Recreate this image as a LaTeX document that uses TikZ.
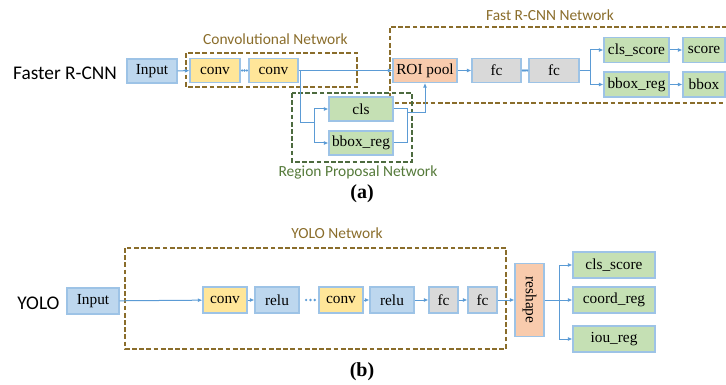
\documentclass[tikz,border=0pt]{standalone}
\usepackage{fontspec}
\setmainfont{Liberation Serif}
\newfontfamily\labfont{Carlito}
\usetikzlibrary{arrows.meta,calc}

\definecolor{bfill}{HTML}{BDD7EE}
\definecolor{yfill}{HTML}{FFE699}
\definecolor{gfill}{HTML}{C5E0B4}
\definecolor{grfill}{HTML}{D9D9D9}
\definecolor{sfill}{HTML}{F8CBAD}
\definecolor{bord}{HTML}{9DC3E6}
\definecolor{wire}{HTML}{5B9BD5}
\definecolor{olive}{HTML}{8A6D2B}
\definecolor{dgreen}{HTML}{4D6B3F}
\definecolor{lgreen}{HTML}{557A3A}

\tikzset{
  box/.style={draw=bord, line width=0.8pt, inner sep=0pt,
    minimum height=18pt, font=\fontsize{11.5}{13}\selectfont},
  bluebox/.style={box, fill=bfill},
  convbox/.style={box, fill=yfill},
  greenbox/.style={box, fill=gfill},
  graybox/.style={box, fill=grfill},
  salmonbox/.style={box, fill=sfill},
  wireline/.style={draw=wire, line width=0.75pt},
  arr/.style={wireline, -{Latex[length=3.5pt,width=3pt]}},
  olivedash/.style={draw=olive, line width=1.1pt, dash pattern=on 3.6pt off 1.8pt},
  greendash/.style={draw=dgreen, line width=1.1pt, dash pattern=on 3.6pt off 1.8pt},
  netlabel/.style={font=\labfont\fontsize{11.6}{13}\selectfont, inner sep=0pt},
  rowlabel/.style={font=\labfont\fontsize{14.5}{16}\selectfont, inner sep=0pt},
  sublabel/.style={font=\bfseries\fontsize{15}{17}\selectfont, inner sep=0pt},
}

% three blue dots in the gap between two boxes, at the given fractions
\newcommand\dotrun[5]{%
  \foreach \t in {#3,#4,#5}{%
    \fill[wire] ($(#1.east)!\t!(#2.west)$) circle[radius=1pt];}}

\begin{document}
\begin{tikzpicture}[x=0.75pt, y=-0.75pt]
\useasboundingbox (0,0) rectangle (726,385);

% ---------------- Faster R-CNN ----------------
\node[rowlabel] (frlabel) at (65,73) {Faster R-CNN};

% group frames
\draw[olivedash] (186,53) rectangle (357,87);
\draw[olivedash] (727,27) -- (390,27) -- (390,103) -- (727,103);
\draw[greendash] (292,93) rectangle (412,162);

\node[netlabel, text=olive] (convnetlabel) at (275.5,39) {Convolutional Network};
\node[netlabel, text=olive] (fastnetlabel) at (550,15) {Fast R-CNN Network};
\node[netlabel, text=lgreen] (rpnlabel) at (358,172) {Region Proposal Network};

% boxes
\node[bluebox, minimum width=37.5pt] (in1) at (152,71) {Input};
\node[convbox, minimum width=37.5pt] (conv1) at (215,70.5) {conv};
\node[convbox, minimum width=36.75pt] (conv2) at (273.5,70.5) {conv};
\node[salmonbox, minimum width=48pt] (roi) at (425,70.5) {ROI pool};
\node[graybox, minimum width=36.75pt] (fc1) at (496.5,70.5) {fc};
\node[graybox, minimum width=37.5pt] (fc2) at (554,70.5) {fc};
\node[greenbox, minimum width=48.75pt, minimum height=18.75pt] (clss) at (636.5,50) {cls\_score};
\node[greenbox, minimum width=48.75pt, minimum height=18.75pt] (bbr) at (636.5,84.5) {bbox\_reg};
\node[greenbox, minimum width=31.5pt, minimum height=18.75pt] (score) at (704,50) {score};
\node[greenbox, minimum width=31.5pt, minimum height=18.75pt] (bbox) at (704,84.5) {bbox};
\node[greenbox, minimum width=48pt] (rcls) at (361,109) {cls};
\node[greenbox, minimum width=48pt] (rbbr) at (361,143) {bbox\_reg};

% wiring
\coordinate (s1) at (300,70.5);
\coordinate (s2) at (314,123);
\coordinate (m1) at (407,113);
\coordinate (f1) at (590,70.5);

\draw[arr] (in1) -- (conv1);
\dotrun{conv1}{conv2}{0.2}{0.5}{0.8}
\draw[arr] (conv2) -- (roi);
\draw[wireline] (s1) |- (s2);
\draw[arr] (s2) |- (rcls.west);
\draw[arr] (s2) |- (rbbr.west);
\draw[wireline] (rcls.east) -| (m1);
\draw[wireline] (rbbr.east) -| (m1);
\draw[arr] (m1) -| (roi.south);
\draw[arr] (roi) -- (fc1);
\dotrun{fc1}{fc2}{0.2}{0.5}{0.8}
\draw[wireline] (fc2.east) -- (f1);
\draw[arr] (f1) |- (clss.west);
\draw[arr] (f1) |- (bbr.west);
\draw[arr] (clss) -- (score);
\draw[arr] (bbr) -- (bbox);

\node[sublabel] (alabel) at (362,194) {(a)};

% ---------------- YOLO ----------------
\node[rowlabel] (yololabel) at (38.5,303) {YOLO};

\draw[olivedash] (125,248) rectangle (506,349);
\node[netlabel, text=olive] (yolonetlabel) at (337,233) {YOLO Network};

\node[bluebox, minimum width=39pt, minimum height=19.5pt] (yin) at (93,301) {Input};
\node[convbox, minimum width=33pt, minimum height=19.5pt] (yc1) at (225,300) {conv};
\node[bluebox, minimum width=33pt, minimum height=19.5pt] (yr1) at (277,300) {relu};
\node[convbox, minimum width=33pt, minimum height=19.5pt] (yc2) at (341,300) {conv};
\node[bluebox, minimum width=33pt, minimum height=19.5pt] (yr2) at (392,300) {relu};
\node[graybox, minimum width=21.75pt, minimum height=19.5pt] (yf1) at (443.5,300) {fc};
\node[graybox, minimum width=21.75pt, minimum height=19.5pt] (yf2) at (482.5,300) {fc};
\node[salmonbox, minimum width=21.75pt, minimum height=54.75pt] (resh) at (529.5,300) {\rotatebox{-90}{reshape}};
\node[greenbox, minimum width=61.5pt, minimum height=19.5pt] (ycls) at (614,265) {cls\_score};
\node[greenbox, minimum width=61.5pt, minimum height=19.5pt] (ycoord) at (614,300) {coord\_reg};
\node[greenbox, minimum width=61.5pt, minimum height=19.5pt] (yiou) at (614,339) {iou\_reg};

\coordinate (b1) at (559,300);

\draw[arr] (yin) -- (yc1);
\draw[arr] (yc1) -- (yr1);
\dotrun{yr1}{yc2}{0.35}{0.575}{0.8}
\draw[arr] (yc2) -- (yr2);
\draw[arr] (yr2) -- (yf1);
\draw[arr] (yf1) -- (yf2);
\draw[arr] (yf2) -- (resh);
\draw[wireline] (resh.east) -- (b1);
\draw[arr] (b1) |- (ycls.west);
\draw[arr] (b1) -- (ycoord.west);
\draw[arr] (b1) |- (yiou.west);

\node[sublabel] (blabel) at (362,372) {(b)};
\end{tikzpicture}
\end{document}
